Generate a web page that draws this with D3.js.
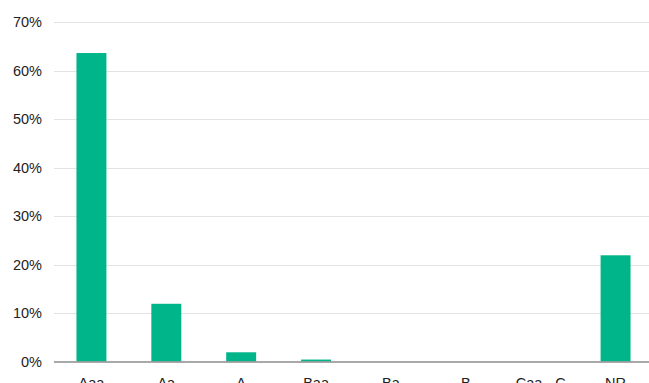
<!DOCTYPE html>
<html>
<head>
<meta charset="utf-8">
<script src="https://cdn.jsdelivr.net/npm/d3@7"></script>
<style>
  html, body { margin: 0; padding: 0; background: #fff; }
  svg { display: block; }
  text { font-family: "Liberation Sans", Arial, Helvetica, sans-serif; fill: #222; }
</style>
</head>
<body>
<svg id="chart" width="649" height="383"></svg>
<script>
// Rating categories and share of holdings (%)
const categories = ["Aaa", "Aa", "A", "Baa", "Ba", "B", "Caa - C", "NR"];
const shares = [63.6, 11.9, 1.9, 0.4, 0, 0, 0, 21.9];
const yTicks = [0, 10, 20, 30, 40, 50, 60, 70];

const width = 649, height = 383;
const margin = { top: 22, right: -4, bottom: 21.5, left: 54 };

const svg = d3.select("#chart");

const x = d3.scaleBand()
  .domain(categories)
  .range([margin.left, width - margin.right])
  .paddingInner(0.6)
  .paddingOuter(0.3);

const y = d3.scaleLinear()
  .domain([0, 70])
  .range([height - margin.bottom, margin.top]);

// Horizontal gridlines
svg.append("g")
  .selectAll("line")
  .data(yTicks.filter(d => d > 0))
  .join("line")
  .attr("x1", margin.left)
  .attr("x2", width)
  .attr("y1", d => Math.round(y(d)) + 0.5)
  .attr("y2", d => Math.round(y(d)) + 0.5)
  .attr("stroke", "#e3e3e3")
  .attr("stroke-width", 1);

// Y axis labels
const yAxis = d3.axisLeft(y)
  .tickValues(yTicks)
  .tickFormat(d => d + "%")
  .tickSize(0)
  .tickPadding(0);
svg.append("g")
  .attr("transform", `translate(${margin.left - 12},0)`)
  .call(yAxis)
  .call(g => g.select(".domain").remove())
  .call(g => g.selectAll("text")
    .attr("font-size", "14.5px")
    .attr("fill", "#222")
    .attr("font-family", "\"Liberation Sans\", Arial, sans-serif"));

// Bars
svg.append("g")
  .selectAll("rect")
  .data(categories.map((c, i) => ({ c, v: shares[i] })).filter(d => d.v > 0))
  .join("rect")
  .attr("x", d => x(d.c))
  .attr("width", x.bandwidth())
  .attr("y", d => y(d.v))
  .attr("height", d => y(0) - y(d.v))
  .attr("fill", "#00b58a");

// X axis baseline and labels
const xAxis = d3.axisBottom(x).tickSize(0).tickPadding(16);
svg.append("g")
  .attr("transform", `translate(0,${y(0)})`)
  .call(xAxis)
  .call(g => g.select(".domain")
    .attr("d", `M${margin.left},0.5H${width}`)
    .attr("stroke", "#8c8c8c")
    .attr("stroke-width", 1.5))
  .call(g => g.selectAll("text")
    .attr("font-size", "14.5px")
    .attr("fill", "#222")
    .attr("font-family", "\"Liberation Sans\", Arial, sans-serif"));
</script>
</body>
</html>
